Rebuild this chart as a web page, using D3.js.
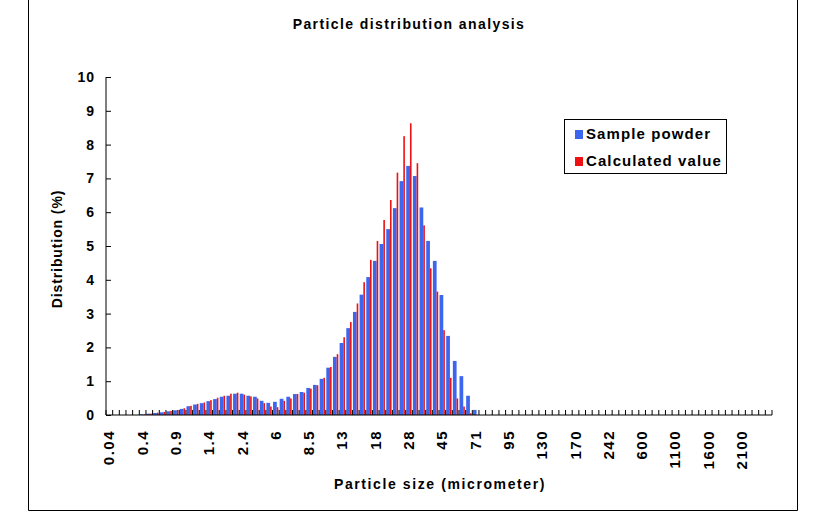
<!DOCTYPE html>
<html>
<head>
<meta charset="utf-8">
<script src="https://cdn.jsdelivr.net/npm/d3@7/dist/d3.min.js"></script>
<style>
  html, body { margin: 0; padding: 0; background: #ffffff; }
  svg text { font-family: "Liberation Sans", Arial, sans-serif; font-weight: bold; fill: #000; }
</style>
</head>
<body>
<div id="chart"></div>
<script>
// ---- data ----
const tickLabels = ["0.04","0.4","0.9","1.4","2.4","6","8.5","13","18","28",
                    "45","71","95","130","170","242","600","1100","1600","2100"];
const labelEvery = 5;
const categoryCount = 100;

const samplePowder = [
  0, 0, 0, 0, 0, 0.02, 0.04, 0.06, 0.08, 0.11,
  0.14, 0.18, 0.26, 0.31, 0.35, 0.41, 0.47, 0.54, 0.57, 0.63,
  0.63, 0.57, 0.54, 0.42, 0.36, 0.39, 0.48, 0.54, 0.62, 0.68,
  0.80, 0.89, 1.07, 1.40, 1.72, 2.13, 2.57, 3.05, 3.56, 4.08,
  4.56, 5.06, 5.50, 6.12, 6.92, 7.37, 7.07, 6.14, 5.15, 4.56,
  3.55, 2.34, 1.60, 1.15, 0.57, 0.15, 0, 0, 0, 0,
  0, 0, 0, 0, 0, 0, 0, 0, 0, 0,
  0, 0, 0, 0, 0, 0, 0, 0, 0, 0,
  0, 0, 0, 0, 0, 0, 0, 0, 0, 0,
  0, 0, 0, 0, 0, 0, 0, 0, 0, 0
];
const calculatedValue = [
  0, 0, 0, 0, 0, 0.02, 0.04, 0.07, 0.09, 0.12,
  0.15, 0.20, 0.27, 0.33, 0.37, 0.44, 0.51, 0.57, 0.63, 0.66,
  0.60, 0.55, 0.49, 0.35, 0.25, 0.23, 0.42, 0.49, 0.62, 0.66,
  0.78, 0.88, 1.10, 1.42, 1.80, 2.30, 2.75, 3.30, 3.93, 4.59,
  5.15, 5.77, 6.36, 7.17, 8.25, 8.63, 7.45, 5.61, 4.34, 3.65,
  2.51, 1.10, 0.49, 0.25, 0.05, 0, 0, 0, 0, 0,
  0, 0, 0, 0, 0, 0, 0, 0, 0, 0,
  0, 0, 0, 0, 0, 0, 0, 0, 0, 0,
  0, 0, 0, 0, 0, 0, 0, 0, 0, 0,
  0, 0, 0, 0, 0, 0, 0, 0, 0, 0
];
const yTicks = [0,1,2,3,4,5,6,7,8,9,10];
const seriesNames = ["Sample powder", "Calculated value"];
const seriesColors = ["#3d66ee", "#ee1111"];

// ---- layout ----
const W = 815, H = 514;
const plotL = 106, plotR = 772, plotT = 77, plotB = 415;

const svg = d3.select("#chart").append("svg")
  .attr("width", W).attr("height", H);

svg.append("rect").attr("x", 0).attr("y", 0).attr("width", W).attr("height", H).attr("fill", "#fff");
// chart-area frame
svg.append("path").attr("d", "M28.5,-1V510.5H797.5V-1").attr("fill", "none").attr("stroke", "#000").attr("stroke-width", 1);

const x = d3.scaleBand().domain(d3.range(categoryCount)).range([plotL, plotR]).paddingInner(0).paddingOuter(0);
const y = d3.scaleLinear().domain([0, 10]).range([plotB, plotT]);
const bw = x.bandwidth();

// bars
const g = svg.append("g");
g.selectAll("rect.blue").data(samplePowder).join("rect")
  .attr("class", "blue")
  .attr("x", (d, i) => x(i) + bw * 0.08)
  .attr("width", bw * 0.56)
  .attr("y", d => y(d))
  .attr("height", d => y(0) - y(d))
  .attr("fill", seriesColors[0]);
g.selectAll("rect.red").data(calculatedValue).join("rect")
  .attr("class", "red")
  .attr("x", (d, i) => x(i) + bw * 0.64)
  .attr("width", bw * 0.24)
  .attr("y", d => y(d))
  .attr("height", d => y(0) - y(d))
  .attr("fill", seriesColors[1]);

// y axis
const yAxis = d3.axisLeft(y).tickValues(yTicks).tickSize(-5).tickPadding(11).tickFormat(d3.format("d"));
const ya = svg.append("g").attr("transform", `translate(${plotL},0)`).call(yAxis);
ya.select(".domain").attr("stroke", "#000").attr("d", `M0,${plotT}V${plotB}`);
ya.selectAll(".tick line").attr("stroke", "#000");
ya.selectAll(".tick text").attr("font-size", 14).style("letter-spacing", "1px");

// x axis: ticks at category boundaries, labels every 5th category
const boundaries = d3.range(categoryCount + 1).map(i => i < categoryCount ? x(i) : x(categoryCount - 1) + bw);
const xa = svg.append("g");
xa.append("line").attr("x1", plotL).attr("x2", plotR).attr("y1", plotB).attr("y2", plotB).attr("stroke", "#000");
xa.selectAll("line.tk").data(boundaries).join("line")
  .attr("class", "tk")
  .attr("x1", d => d).attr("x2", d => d)
  .attr("y1", plotB).attr("y2", plotB - 5)
  .attr("stroke", "#000");
xa.selectAll("text").data(tickLabels).join("text")
  .attr("transform", (d, i) => `translate(${x(i * labelEvery) + bw / 2 + 5},${plotB + 15}) rotate(-90)`)
  .attr("text-anchor", "end")
  .attr("font-size", 15)
  .style("letter-spacing", "1.5px")
  .text(d => d);

// titles
svg.append("text").attr("x", 409).attr("y", 29).attr("text-anchor", "middle")
  .attr("font-size", 14).style("letter-spacing", "1.4px").text("Particle distribution analysis");
svg.append("text").attr("x", 440).attr("y", 489).attr("text-anchor", "middle")
  .attr("font-size", 14).style("letter-spacing", "1.6px").text("Particle size (micrometer)");
svg.append("text").attr("transform", "translate(62,249) rotate(-90)").attr("text-anchor", "middle")
  .attr("font-size", 14).style("letter-spacing", "0.9px").text("Distribution (%)");

// legend
const lg = svg.append("g");
lg.append("rect").attr("x", 564.5).attr("y", 119.5).attr("width", 162).attr("height", 54)
  .attr("fill", "#fff").attr("stroke", "#000").attr("stroke-width", 1);
seriesNames.forEach((name, i) => {
  const yy = 139 + i * 27;
  lg.append("rect").attr("x", 575).attr("y", yy - 9).attr("width", 8).attr("height", 9).attr("fill", seriesColors[i]);
  lg.append("text").attr("x", 586).attr("y", yy).attr("font-size", 15).style("letter-spacing", "1.1px").text(name);
});
</script>
</body>
</html>
